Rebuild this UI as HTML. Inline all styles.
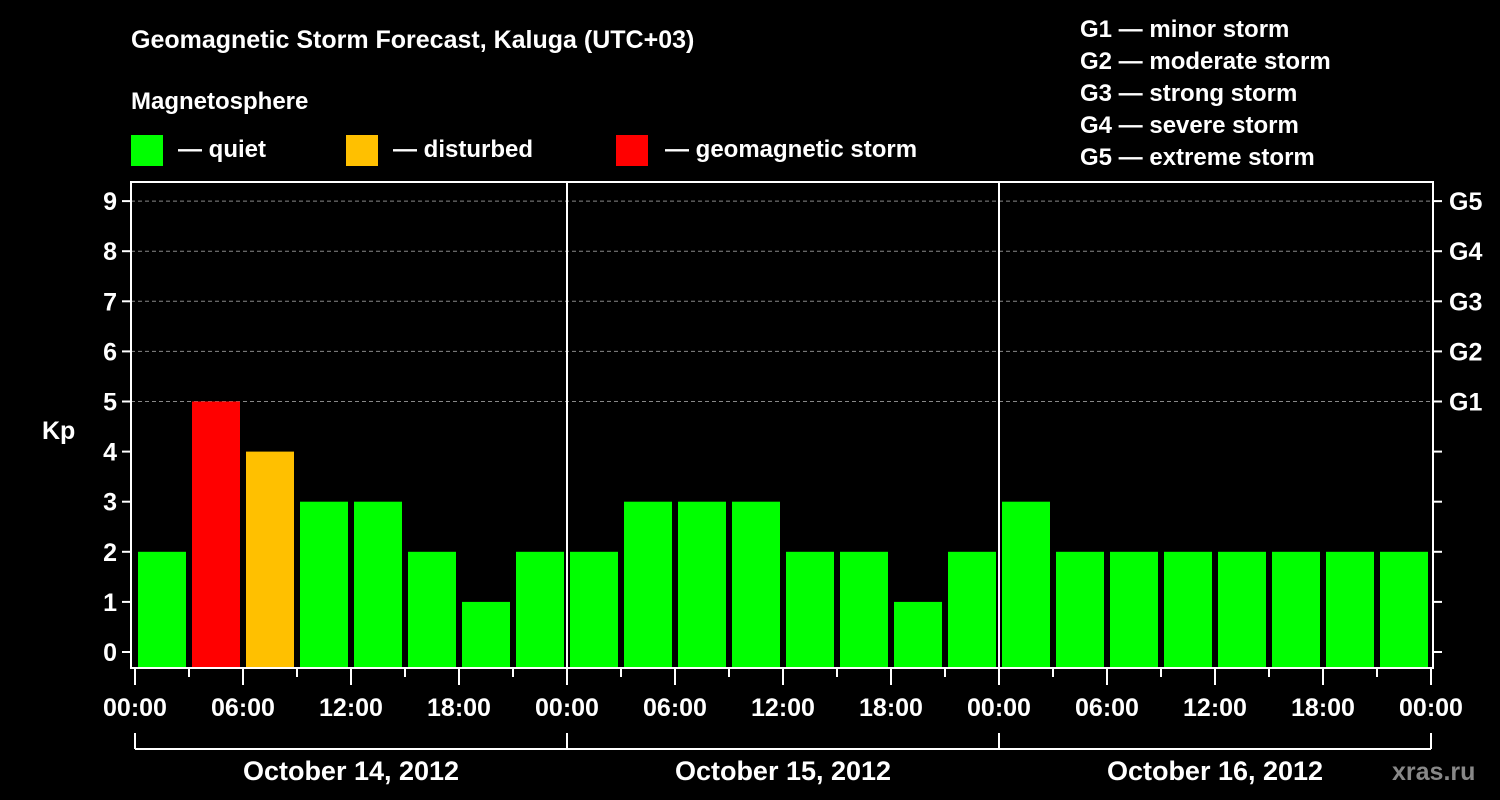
<!DOCTYPE html>
<html><head><meta charset="utf-8"><style>
html,body{margin:0;padding:0;background:#000;}
svg{display:block;font-family:"Liberation Sans",Arial,sans-serif;font-weight:bold;}
</style></head><body>
<svg id="chart" width="1500" height="800" viewBox="0 0 1500 800">
<text x="131" y="48" fill="#fff" font-size="25">Geomagnetic Storm Forecast, Kaluga (UTC+03)</text>
<text x="131" y="109" fill="#fff" font-size="24">Magnetosphere</text>
<g><rect x="131" y="135" width="32" height="31" fill="#00ff00"/><text x="178" y="157" fill="#fff" font-size="24">— quiet</text></g>
<g><rect x="346" y="135" width="32" height="31" fill="#ffc000"/><text x="393" y="157" fill="#fff" font-size="24">— disturbed</text></g>
<g><rect x="616" y="135" width="32" height="31" fill="#ff0000"/><text x="665" y="157" fill="#fff" font-size="24">— geomagnetic storm</text></g>
<g fill="#fff" font-size="24">
<text x="1080" y="37">G1 — minor storm</text>
<text x="1080" y="69">G2 — moderate storm</text>
<text x="1080" y="101">G3 — strong storm</text>
<text x="1080" y="133">G4 — severe storm</text>
<text x="1080" y="165">G5 — extreme storm</text>
</g>
<text x="42" y="439" fill="#fff" font-size="25">Kp</text>
<g id="grid"></g><g id="bars"></g><g id="axes"></g>
<text x="1392" y="780" fill="#888" font-size="25">xras.ru</text>
</svg>
<script>
const days = ["October 14, 2012","October 15, 2012","October 16, 2012"];
const kpValues = [2,5,4,3,3,2,1,2, 2,3,3,3,2,2,1,2, 3,2,2,2,2,2,2,2];
const yTicks = [0,1,2,3,4,5,6,7,8,9];
const gLabels = ["G1","G2","G3","G4","G5"];
const gLevels = [5,6,7,8,9];
const xTickLabels = ["00:00","06:00","12:00","18:00"];

const NS="http://www.w3.org/2000/svg";
const X0=135, DAYW=432, Y0=652, YU=50.1, PL=131, PR=1433, PT=182, PB=668;
const xOf = h => X0 + h*DAYW/24;
const yOf = v => Y0 - v*YU;
function mk(tag, parent, attrs){const e=document.createElementNS(NS,tag);for(const k in attrs)e.setAttribute(k,attrs[k]);document.getElementById(parent).appendChild(e);return e;}
function color(v){return v>=5?"#ff0000":(v>=4?"#ffc000":"#00ff00");}

// grid lines
gLevels.forEach(v=>{
  const l=mk("line","grid",{x1:PL,x2:PR,y1:yOf(v),y2:yOf(v),stroke:"#888","stroke-width":1,"stroke-dasharray":"4,3"});
  
  
});
// bars
kpValues.forEach((v,i)=>{
  const x=xOf(i*3)+3, w=xOf(3)-X0-6;
  const r=mk("rect","bars",{x:x,y:yOf(v),width:w,height:PB-1-yOf(v),fill:color(v)});
  
  
});
// frame
const fr=mk("rect","axes",{x:PL,y:PT,width:PR-PL,height:PB-PT,fill:"none",stroke:"#fff","stroke-width":2});


for(let d=1; d<days.length; d++){
  const l=mk("line","axes",{x1:xOf(d*24),x2:xOf(d*24),y1:PT,y2:PB,stroke:"#fff","stroke-width":2});
  
  
}
// y ticks
yTicks.forEach(v=>{
  mk("line","axes",{x1:PL-9,x2:PL,y1:yOf(v),y2:yOf(v),stroke:"#fff","stroke-width":2});
  mk("line","axes",{x1:PR,x2:PR+9,y1:yOf(v),y2:yOf(v),stroke:"#fff","stroke-width":2});
  const t=mk("text","axes",{x:PL-14,y:yOf(v)+9,"text-anchor":"end",fill:"#fff","font-size":25});
  t.textContent=v;
  
  
});
gLabels.forEach((g,i)=>{
  const t=mk("text","axes",{x:PR+16,y:yOf(gLevels[i])+9,fill:"#fff","font-size":25});
  t.textContent=g;
  
  
});
// x ticks
for(let h=0; h<=days.length*24; h+=3){
  const major=h%6===0;
  mk("line","axes",{x1:xOf(h),x2:xOf(h),y1:PB,y2:PB+(major?17:9),stroke:"#fff","stroke-width":2});
  if(major){
    const t=mk("text","axes",{x:xOf(h),y:716,"text-anchor":"middle",fill:"#fff","font-size":25});
    t.textContent=xTickLabels[(h%24)/6];
    
    
  }
}
// day bracket
mk("line","axes",{x1:xOf(0),x2:xOf(days.length*24),y1:749,y2:749,stroke:"#fff","stroke-width":2});
for(let d=0; d<=days.length; d++) mk("line","axes",{x1:xOf(d*24),x2:xOf(d*24),y1:733,y2:749,stroke:"#fff","stroke-width":2});
days.forEach((d,i)=>{
  const t=mk("text","axes",{x:xOf(i*24+12),y:780,"text-anchor":"middle",fill:"#fff","font-size":27});
  t.textContent=d;
  
  
});
</script>
</body></html>
